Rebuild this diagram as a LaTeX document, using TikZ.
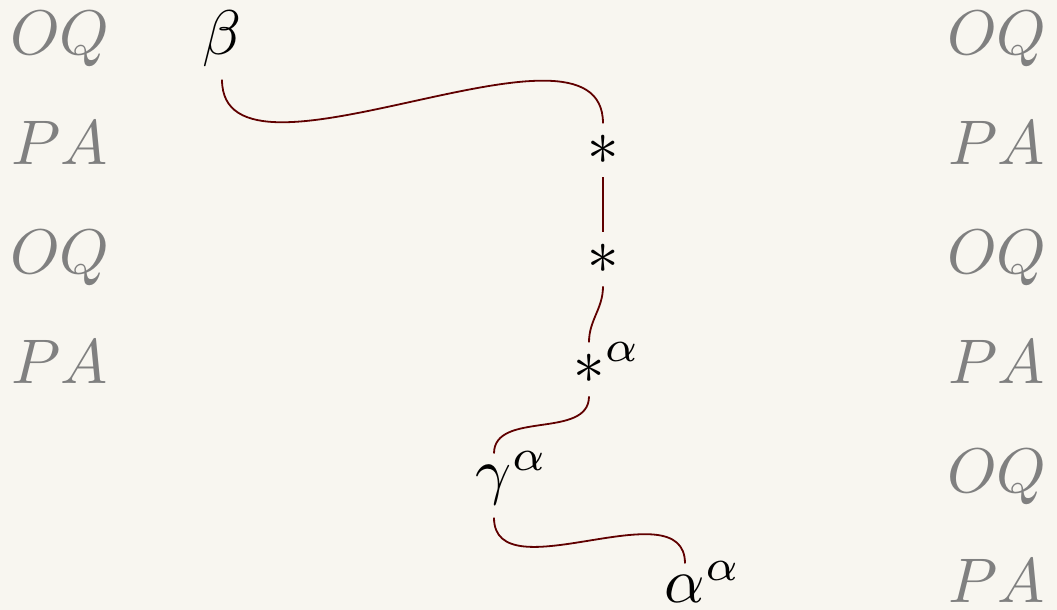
\documentclass[tikz,border=0pt]{standalone}
\DeclareFontShape{OML}{cmm}{m}{it}{<-25> cmmi7 <25-> cmmi10}{}
\DeclareFontShape{OMS}{cmsy}{m}{n}{<-25> cmsy7 <25-> cmsy10}{}
\DeclareMathSizes{31.5}{31.5}{22.05}{15.75}
\definecolor{bgc}{RGB}{248,246,240}
\definecolor{edgec}{RGB}{96,0,0}
\definecolor{labc}{RGB}{128,128,128}
\tikzset{
  big/.style={font=\fontsize{31.5}{38}\selectfont},
  term/.style={big, anchor=base, inner sep=6pt, text=black},
  lab/.style={big, anchor=base, inner sep=0pt, text=labc},
  link/.style={draw=edgec, line width=0.9pt, out=-90, in=90},
}
\begin{document}
\begin{tikzpicture}[x=0.5pt,y=0.5pt]
\useasboundingbox[fill=bgc] (0,0) rectangle (1057,-610);
% left labels
\node[lab] (l1) at (60,-55) {$OQ$};
\node[lab] (l2) at (60,-165) {$PA$};
\node[lab] (l3) at (60,-274) {$OQ$};
\node[lab] (l4) at (60,-384) {$PA$};
% right labels
\node[lab] (r1) at (997,-55) {$OQ$};
\node[lab] (r2) at (997,-165) {$PA$};
\node[lab] (r3) at (997,-274) {$OQ$};
\node[lab] (r4) at (997,-384) {$PA$};
\node[lab] (r5) at (997,-493) {$OQ$};
\node[lab] (r6) at (997,-603) {$PA$};
% terms
\node[term] (b) at (222,-55) {$\beta$};
\node[term] (s1) at (603,-165) {$*$};
\node[term] (s2) at (603,-274) {$*$};
\node[term] (s3) at (589,-384) {$*$\rlap{\smash{$^{\alpha}$}}};
\node[term] (g) at (494,-493) {$\gamma$\rlap{\smash{$^{\alpha}$}}};
\node[term] (a) at (685,-603) {$\alpha$\rlap{\smash{$^{\alpha}$}}};
% links
\draw[link, looseness=0.85] (b.south) to (s1.north);
\draw[link] (s1.south) to (s2.north);
\draw[link] (s2.south) to (s3.north);
\draw[link] (s3.south) to (g.north);
\draw[link] (g.south) to (a.north);
\end{tikzpicture}
\end{document}
